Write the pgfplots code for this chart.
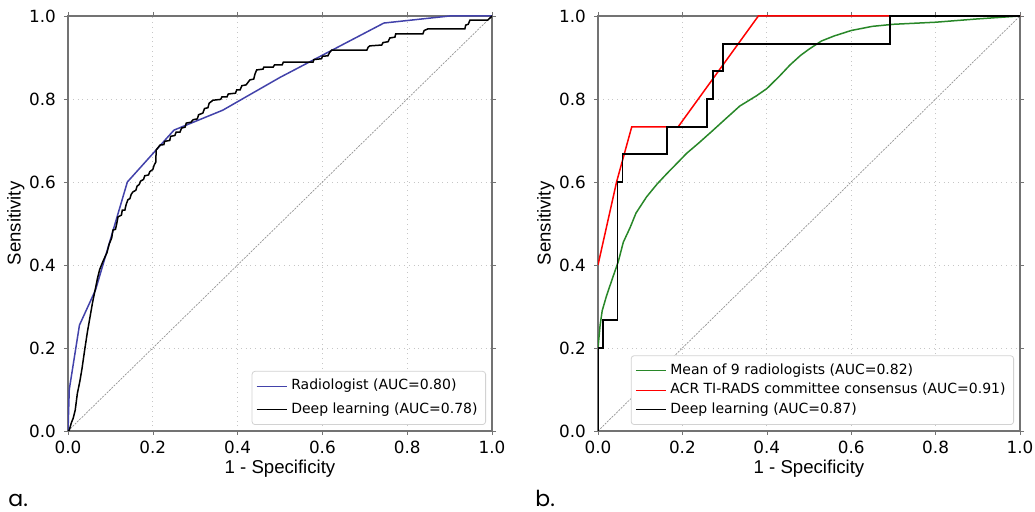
\documentclass[border=0pt]{standalone}
\usepackage{fontspec}
\setmainfont{DejaVu Sans}
\newfontfamily\labfont{Liberation Sans}
\newfontfamily\panelfont{Poppins}
\usepackage{pgfplots}
\pgfplotsset{compat=1.18}

\definecolor{radblue}{RGB}{66,66,170}
\definecolor{mgreen}{RGB}{40,135,40}
\definecolor{frame}{RGB}{115,115,115}

\pgfplotsset{
  rocax/.style={
    scale only axis, height=207.5pt,
    xmin=0, xmax=1, ymin=0, ymax=1,
    xtick={0,0.2,0.4,0.6,0.8,1}, ytick={0,0.2,0.4,0.6,0.8,1},
    xticklabels={0.0,0.2,0.4,0.6,0.8,1.0},
    yticklabels={0.0,0.2,0.4,0.6,0.8,1.0},
    axis line style={frame, line width=0.7pt},
    tick style={frame}, tick align=outside, major tick length=2pt,
    grid=major, grid style={dotted, gray!45},
    tick label style={font=\fontsize{8.4}{10}\selectfont},
    xticklabel style={yshift=0.5pt},
    yticklabel style={xshift=-0.5pt},
    xlabel={1 - Specificity}, ylabel={Sensitivity},
    label style={font=\labfont\fontsize{9.3}{11}\selectfont},
    xlabel style={at={(rel axis cs:0.5,0)}, anchor=center, yshift=-19pt},
    legend cell align=left,
    legend image code/.code={\draw[#1, line width=0.6pt] (0pt,0pt) -- (15pt,0pt);},
    legend style={font=\fontsize{7}{8}\selectfont, at={(rel axis cs:1,0)},
      anchor=south east, xshift=-3pt, yshift=3pt, draw=gray!35,
      rounded corners=1.5pt, inner sep=2pt},
  },
  diag/.style={gray!85, line width=0.35pt, dash pattern=on 1pt off 0.6pt, forget plot},
}

\begin{document}
\begin{tikzpicture}

\begin{axis}[rocax, width=212pt, at={(34pt,40.5pt)}, anchor=south west,
  ylabel style={at={(axis description cs:-0.123,0.5)}, anchor=center},
  legend style={row sep=1pt}]
\addplot[diag] coordinates {(0,0) (1,1)};
\addplot[radblue, line width=0.75pt] coordinates {
  (0,0) (0.003,0.1) (0.027,0.255) (0.065,0.34) (0.14,0.6) (0.25,0.725)
  (0.365,0.773) (0.5,0.852) (0.745,0.983) (0.9,1) (1,1)};
\addlegendentry{Radiologist (AUC=0.80)}
\addplot[black, line width=0.75pt] coordinates {
  (0,0) (0.003,0.002) (0.008,0.02) (0.012,0.03) (0.017,0.05) (0.022,0.09)
  (0.028,0.12) (0.033,0.15) (0.04,0.2) (0.046,0.24) (0.052,0.275) (0.058,0.31)
  (0.064,0.34) (0.07,0.37) (0.075,0.39) (0.083,0.41) (0.092,0.43) (0.097,0.45)
  (0.103,0.465) (0.106,0.484) (0.112,0.486) (0.115,0.5) (0.118,0.516)
  (0.126,0.52) (0.128,0.532) (0.134,0.532) (0.137,0.545) (0.141,0.557)
  (0.146,0.56) (0.149,0.57) (0.153,0.576) (0.16,0.58) (0.163,0.59)
  (0.168,0.594) (0.171,0.602) (0.178,0.606) (0.181,0.615) (0.19,0.617)
  (0.193,0.625) (0.2,0.63) (0.203,0.64) (0.207,0.648) (0.208,0.677)
  (0.217,0.689) (0.226,0.69) (0.228,0.698) (0.24,0.70) (0.242,0.71)
  (0.252,0.712) (0.255,0.72) (0.264,0.72) (0.268,0.73) (0.276,0.732)
  (0.279,0.742) (0.29,0.744) (0.295,0.75) (0.305,0.752) (0.308,0.762)
  (0.318,0.766) (0.322,0.777) (0.33,0.779) (0.333,0.79) (0.342,0.797)
  (0.36,0.799) (0.363,0.805) (0.375,0.805) (0.378,0.812) (0.395,0.814)
  (0.398,0.822) (0.406,0.822) (0.41,0.832) (0.42,0.834) (0.429,0.846)
  (0.438,0.848) (0.441,0.86) (0.445,0.87) (0.46,0.872) (0.462,0.877)
  (0.484,0.877) (0.487,0.882) (0.505,0.882) (0.508,0.889) (0.578,0.889)
  (0.58,0.895) (0.598,0.897) (0.6,0.903) (0.613,0.904) (0.617,0.912)
  (0.622,0.918) (0.705,0.918) (0.708,0.925) (0.712,0.928) (0.74,0.93)
  (0.743,0.936) (0.755,0.938) (0.759,0.947) (0.771,0.949) (0.773,0.957)
  (0.837,0.957) (0.84,0.965) (0.849,0.969) (0.936,0.969) (0.938,0.978)
  (0.944,0.98) (0.948,0.99) (0.99,0.99) (1,1)};
\addlegendentry{Deep learning (AUC=0.78)}
\end{axis}

\begin{axis}[rocax, width=211pt, at={(299pt,40.5pt)}, anchor=south west,
  ylabel style={at={(axis description cs:-0.1235,0.5)}, anchor=center},
  legend style={row sep=-1pt}]
\addplot[diag] coordinates {(0,0) (1,1)};
\addplot[mgreen, line width=0.75pt] coordinates {
  (0,0.2) (0.005,0.255) (0.01,0.29) (0.02,0.325) (0.035,0.37) (0.048,0.408)
  (0.06,0.455) (0.076,0.49) (0.09,0.525) (0.115,0.564) (0.14,0.595)
  (0.163,0.62) (0.19,0.648) (0.21,0.669) (0.24,0.695) (0.273,0.725)
  (0.3,0.75) (0.336,0.783) (0.376,0.808) (0.4,0.825) (0.43,0.855)
  (0.455,0.882) (0.48,0.905) (0.5,0.92) (0.53,0.94) (0.56,0.952)
  (0.6,0.965) (0.65,0.975) (0.7,0.98) (0.8,0.985) (0.9,0.993) (1,1)};
\addlegendentry{Mean of 9 radiologists (AUC=0.82)}
\addplot[red, line width=0.75pt] coordinates {
  (0,0.4) (0.044,0.6) (0.08,0.733) (0.19,0.733) (0.38,1) (1,1)};
\addlegendentry{ACR TI-RADS committee consensus (AUC=0.91)}
\addplot[black, line width=0.9pt] coordinates {
  (0,0) (0,0.2) (0.011,0.2) (0.011,0.267) (0.046,0.267) (0.046,0.6)
  (0.058,0.6) (0.058,0.667) (0.164,0.667) (0.164,0.733) (0.259,0.733)
  (0.259,0.8) (0.273,0.8) (0.273,0.867) (0.297,0.867) (0.297,0.933)
  (0.692,0.933) (0.692,1) (1,1)};
\addlegendentry{Deep learning (AUC=0.87)}
\end{axis}

\node[anchor=base west, inner sep=0pt, font=\panelfont\fontsize{11}{13}\selectfont] at (4pt,2.5pt) {a.};
\node[anchor=base west, inner sep=0pt, font=\panelfont\fontsize{11}{13}\selectfont] at (267.5pt,2.5pt) {b.};

\pgfresetboundingbox
\path (0pt,0pt) rectangle (517.5pt,256pt);
\end{tikzpicture}
\end{document}
